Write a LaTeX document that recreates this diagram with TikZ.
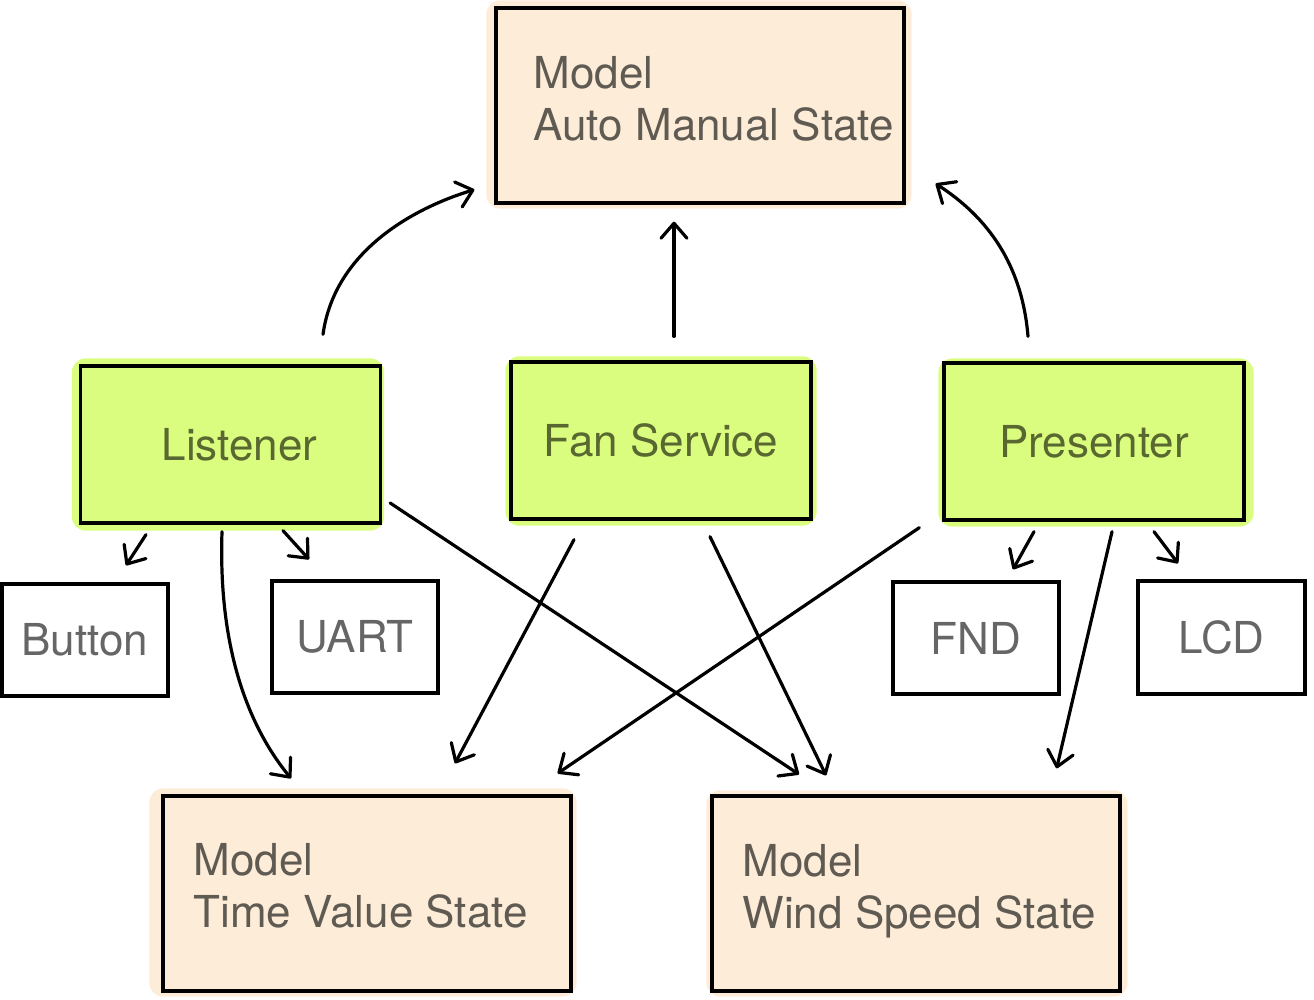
\documentclass[tikz,border=0pt]{standalone}
\usepackage{fontspec}
\setmainfont{TeX Gyre Heros}
\usetikzlibrary{arrows.meta,calc,backgrounds}
\definecolor{peach}{RGB}{253,236,216}
\definecolor{lime}{RGB}{218,253,127}
\definecolor{peachtxt}{RGB}{95,90,82}
\definecolor{limetxt}{RGB}{88,104,48}
\definecolor{graytxt}{RGB}{102,102,102}
\begin{document}
\begin{tikzpicture}[x=1pt,y=-1pt,
  box/.style={draw=black, line width=3.3pt, inner sep=0pt},
  modelbox/.style={box, fill=peach, minimum width=408pt, minimum height=195pt},
  compbox/.style={box, fill=lime, minimum width=300pt, minimum height=157pt, text=limetxt, font=\fontsize{44}{52}\selectfont},
  devbox/.style={box, fill=white, minimum width=166pt, minimum height=112pt, text=graytxt, font=\fontsize{44}{52}\selectfont},
  modeltxt/.style={anchor=north west, align=left, inner sep=0pt, text=peachtxt, font=\fontsize{44}{52}\selectfont},
  conn/.style={line width=3.2pt, line cap=round, line join=round, -{Straight Barb[length=15pt,width=26pt,round]}},
  blobpeach/.style={fill=peach, rounded corners=14pt},
  bloblime/.style={fill=lime, rounded corners=14pt}
]
\useasboundingbox (0,0) rectangle (1314,1000);

% model boxes
\node[modelbox] (A) at (700,105.5) {};
\node[modeltxt] (At) at ($(A.north west)+(39,50)$) {Model\\Auto Manual State};
\node[modelbox] (TV) at (367,893.5) {};
\node[modeltxt] (TVt) at ($(TV.north west)+(32,49)$) {Model\\Time Value State};
\node[modelbox] (WS) at (916,893.5) {};
\node[modeltxt] (WSt) at ($(WS.north west)+(32,50)$) {Model\\Wind Speed State};

% components
\node[compbox] (L) at (230.5,444.5) {\hspace*{18pt}Listener};
\node[compbox] (F) at (661,440.5) {Fan Service};
\node[compbox] (P) at (1094,441.5) {Presenter};

% devices
\node[devbox] (Bt) at (85,640) {Button};
\node[devbox] (U) at (355,637) {UART};
\node[devbox] (FND) at (976,638) {FND};
\node[devbox, minimum width=167pt, minimum height=113pt] (LCD) at (1221.5,637.5) {LCD};

% sketchy highlight fills
\begin{scope}[on background layer]
  \fill[blobpeach] ($(A.north west)+(-8,-6)$) rectangle ($(A.south east)+(6,4)$);
  \fill[blobpeach] ($(TV.north west)+(-12,-6)$) rectangle ($(TV.south east)+(4,4)$);
  \fill[blobpeach] ($(WS.north west)+(-4,-4)$) rectangle ($(WS.south east)+(6,4)$);
  \fill[bloblime] ($(L.north west)+(-7,-6)$) rectangle ($(L.south east)+(2,6)$);
  \fill[bloblime] ($(F.north west)+(-4,-4)$) rectangle ($(F.south east)+(4,5)$);
  \fill[bloblime] ($(P.north west)+(-4,-3)$) rectangle ($(P.south east)+(8,5)$);
\end{scope}

% connectors to Auto Manual State
\draw[conn] ($(L.north)+(92.5,-30)$) .. controls ($(L.north)+(104.5,-116)$) and ($(A.south west)+(-76,2)$) .. ($(A.south west)+(-20,-15)$);
\draw[conn] ($(F.north)+(13,-24)$) -- ($(A.south)+(-26,17)$);
\draw[conn] ($(P.north)+(-66,-25)$) .. controls ($(P.north)+(-72,-98)$) and ($(A.south east)+(81,12)$) .. ($(A.south east)+(30,-21)$);

% Listener
\draw[conn] ($(L.south)+(-84.5,10)$) -- ($(Bt.north)+(41,-17)$);
\draw[conn] ($(L.south)+(52.5,6)$) -- ($(U.north)+(-46,-20)$);
\draw[conn] ($(L.south)+(-8.5,7)$) .. controls ($(L.south)+(-12.5,127)$) and ($(TV.north)+(-117,-66)$) .. ($(TV.north)+(-76,-16)$);
\draw[conn] ($(L.east)+(8,58.5)$) -- ($(WS.north)+(-117,-20)$);

% Fan Service
\draw[conn] ($(F.south)+(-87,19)$) -- ($(TV.north)+(88,-31)$);
\draw[conn] ($(F.south)+(49,16)$) -- ($(WS.north)+(-90,-19)$);

% Presenter
\draw[conn] ($(P.south west)+(-23,6)$) -- ($(TV.north east)+(-15,-21)$);
\draw[conn] ($(P.south)+(-60,10)$) -- ($(FND.north)+(37,-11)$);
\draw[conn] ($(P.south)+(60,10)$) -- ($(LCD.north)+(-43.5,-16)$);
\draw[conn] ($(P.south)+(18,10)$) -- ($(WS.north east)+(-65,-26)$);
\end{tikzpicture}
\end{document}
